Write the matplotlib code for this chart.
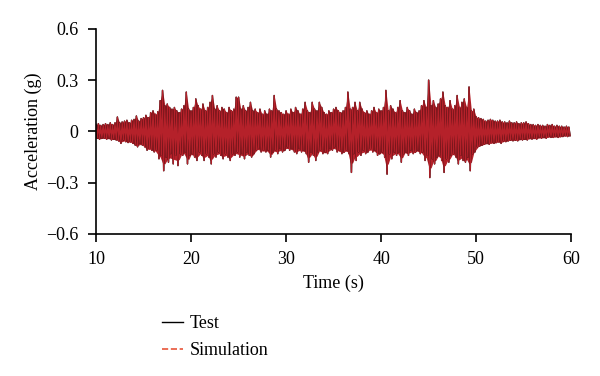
import matplotlib
matplotlib.use("Agg")
import matplotlib.pyplot as plt
from matplotlib.lines import Line2D
import numpy as np

plt.rcParams['font.family'] = ['Liberation Serif', 'DejaVu Serif']

# time span and sample step of the peak lists (s)
t_start = 10.0
t_step = 0.25

# positive peaks, 4 per second (10 s .. 60 s)
upper_peaks = [
    .04, .045, .035, .04,   .045, .04, .05, .04,    .05, .084, .05, .055,
    .06, .065, .05, .065,   .07, .09, .06, .075,    .08, .094, .08, .11,
    .12, .10, .115, .18,    .24, .15, .16, .14,     .13, .14, .12, .11,
    .13, .15, .23, .13,     .12, .14, .19, .15,     .13, .16, .12, .14,
    .17, .21, .13, .15,     .12, .14, .13, .11,     .14, .12, .13, .20,
    .20, .13, .15, .12,     .14, .17, .12, .13,     .11, .13, .10, .12,
    .10, .13, .12, .21,     .13, .12, .11, .10,     .12, .10, .13, .11,
    .14, .12, .10, .13,     .17, .12, .11, .17,     .13, .12, .17, .14,
    .11, .10, .12, .11,     .13, .14, .12, .11,     .12, .14, .23, .13,
    .14, .17, .12, .17,     .13, .11, .12, .10,     .12, .14, .11, .13,
    .12, .14, .24, .12,     .15, .13, .11, .14,     .18, .12, .11, .14,
    .12, .10, .13, .11,     .12, .15, .18, .14,     .30, .15, .18, .14,
    .16, .19, .23, .15,     .14, .18, .13, .15,     .21, .14, .17, .19,
    .14, .26, .12, .13,     .085, .08, .075, .07,   .06, .065, .07, .065,
    .06, .06, .065, .055,   .055, .05, .06, .05,    .05, .055, .045, .05,
    .05, .055, .045, .04,   .04, .035, .04, .035,   .035, .03, .04, .035,
    .04, .03, .035, .03,    .03, .025, .03, .025,
]

# negative peaks, same time steps
lower_peaks = [
    -.04, -.045, -.04, -.04,   -.045, -.04, -.05, -.045,  -.05, -.055, -.07, -.05,
    -.06, -.065, -.06, -.07,   -.08, -.09, -.07, -.08,    -.09, -.11, -.10, -.11,
    -.12, -.11, -.16, -.14,    -.23, -.15, -.18, -.13,    -.19, -.14, -.20, -.13,
    -.14, -.12, -.19, -.14,    -.13, -.15, -.17, -.12,    -.14, -.17, -.13, -.15,
    -.19, -.13, -.15, -.12,    -.14, -.16, -.13, -.15,    -.17, -.13, -.14, -.12,
    -.15, -.13, -.16, -.12,    -.14, -.15, -.13, -.11,    -.10, -.12, -.11, -.12,
    -.11, -.15, -.12, -.11,    -.13, -.10, -.12, -.11,    -.09, -.11, -.10, -.12,
    -.13, -.10, -.12, -.11,    -.13, -.18, -.12, -.14,    -.17, -.12, -.11, -.13,
    -.12, -.13, -.10, -.11,    -.09, -.12, -.11, -.13,    -.12, -.11, -.13, -.24,
    -.13, -.17, -.12, -.14,    -.11, -.13, -.12, -.10,    -.12, -.11, -.14, -.13,
    -.12, -.15, -.25, -.13,    -.16, -.12, -.14, -.12,    -.18, -.13, -.12, -.14,
    -.11, -.13, -.12, -.11,    -.13, -.12, -.17, -.14,    -.27, -.16, -.19, -.15,
    -.14, -.17, -.24, -.16,    -.18, -.14, -.13, -.15,    -.19, -.14, -.17, -.18,
    -.15, -.23, -.13, -.12,    -.09, -.085, -.08, -.075,  -.07, -.075, -.065, -.07,
    -.065, -.06, -.07, -.055,  -.06, -.055, -.05, -.055,  -.05, -.055, -.045, -.05,
    -.045, -.05, -.04, -.045,  -.04, -.045, -.035, -.04,  -.035, -.04, -.03, -.035,
    -.035, -.03, -.035, -.03,  -.03, -.025, -.03, -.025,
]

xticks = [10, 20, 30, 40, 50, 60]
yticks = [-0.6, -0.3, 0, 0.3, 0.6]
ytick_labels = ['\u22120.6', '\u22120.3', '0', '0.3', '0.6']

# interleave positive and negative peaks into one record
accel = np.ravel(np.column_stack([upper_peaks, lower_peaks]))
time = t_start + np.arange(len(accel)) * (t_step / 2)
t_up = time[0::2]
t_lo = time[1::2]

red = '#b5212a'
fig = plt.figure(figsize=(6, 3.76), dpi=100)
ax = fig.add_axes([0.16, 0.378, 0.792, 0.545])

# test record (black) under the simulation (red)
ax.plot(time, accel, color='black', lw=1.1)
ax.plot(time, accel, color=red, lw=1.0)
ax.fill_between(t_up, upper_peaks, np.interp(t_up, t_lo, lower_peaks),
                color=red, lw=0)

ax.set_xlim(10, 60)
ax.set_ylim(-0.6, 0.6)
ax.set_xticks(xticks)
ax.set_yticks(yticks)
ax.set_yticklabels(ytick_labels)
ax.tick_params(labelsize=13, direction='out', length=5.5, width=1.2,
               pad=7, colors='black')
ax.spines['top'].set_visible(False)
ax.spines['right'].set_visible(False)
ax.spines['left'].set_linewidth(1.2)
ax.spines['bottom'].set_linewidth(1.2)
ax.set_xlabel('Time (s)', fontsize=13, labelpad=5)
ax.set_ylabel('Acceleration (g)', fontsize=13, labelpad=3)

handles = [Line2D([], [], color='black', lw=1),
           Line2D([], [], color='#e8553a', lw=1.2, ls='--')]
fig.legend(handles, ['Test', 'Simulation'], loc='upper left',
           bbox_to_anchor=(0.243, 0.205), frameon=False, fontsize=13,
           handlelength=1.15, handletextpad=0.4, labelspacing=0.55)

fig.savefig('out.png', dpi=100)
